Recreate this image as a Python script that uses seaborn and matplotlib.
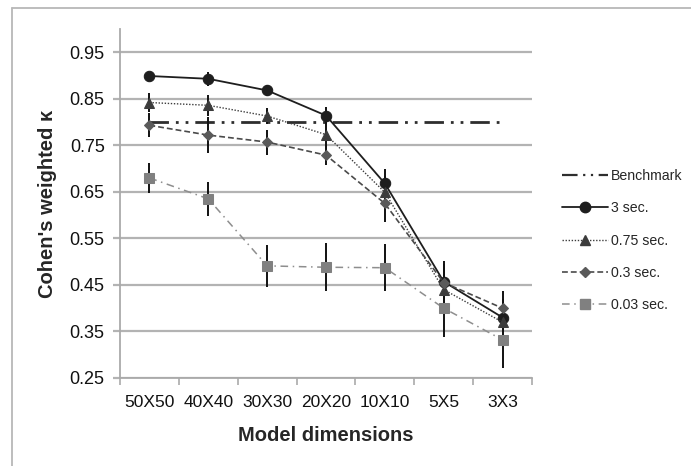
import matplotlib
matplotlib.use("Agg")
import matplotlib.pyplot as plt
import seaborn as sns
import pandas as pd
from matplotlib.lines import Line2D

categories = ["50X50", "40X40", "30X30", "20X20", "10X10", "5X5", "3X3"]
benchmark = 0.80
sec3 = [0.899, 0.893, 0.868, 0.814, 0.668, 0.457, 0.380]
sec3_err = [0.008, 0.015, 0.012, 0.018, 0.032, 0.045, 0.040]
sec075 = [0.842, 0.836, 0.813, 0.773, 0.649, 0.440, 0.370]
sec075_err = [0.020, 0.022, 0.018, 0.030, 0.035, 0.040, 0.035]
sec03 = [0.793, 0.772, 0.757, 0.729, 0.625, 0.455, 0.400]
sec03_err = [0.026, 0.038, 0.027, 0.022, 0.040, 0.040, 0.036]
sec003 = [0.680, 0.635, 0.491, 0.488, 0.487, 0.400, 0.332]
sec003_err = [0.033, 0.037, 0.045, 0.052, 0.050, 0.062, 0.060]
yticks = [0.25, 0.35, 0.45, 0.55, 0.65, 0.75, 0.85, 0.95]

sns.set_theme(style="white")
plt.rcParams['font.family'] = ['Liberation Sans', 'DejaVu Sans']

fig = plt.figure(figsize=(6.91, 4.66), dpi=100)
ax = fig.add_axes([120/691, 1-378/466, 412/691, (378-29)/466])

pos = list(range(len(categories)))

series = [
    ("3 sec.", sec3, sec3_err, dict(color="#1e1e1e", linestyle="-", linewidth=1.3, marker="o", markersize=7.5, markerfacecolor="#1e1e1e", markeredgecolor="#1e1e1e")),
    ("0.75 sec.", sec075, sec075_err, dict(color="#3c3c3c", linestyle=(0, (1, 1.2)), linewidth=1.0, marker="^", markersize=7.5, markerfacecolor="#3c3c3c", markeredgecolor="#3c3c3c")),
    ("0.3 sec.", sec03, sec03_err, dict(color="#4a4a4a", linestyle=(0, (3.5, 1.8)), linewidth=1.2, marker="D", markersize=5.5, markerfacecolor="#5a5a5a", markeredgecolor="#5a5a5a")),
    ("0.03 sec.", sec003, sec003_err, dict(color="#8e8e8e", linestyle=(0, (5, 3, 1, 3)), linewidth=1.1, marker="s", markersize=7.5, markerfacecolor="#808080", markeredgecolor="#808080")),
]

# gridlines
for y in yticks:
    ax.axhline(y, color="#b3b3b3", linewidth=1.6, zorder=0)

# benchmark line
bdf = pd.DataFrame({"x": [pos[0], pos[-1]], "y": [benchmark, benchmark]})
sns.lineplot(data=bdf, x="x", y="y", ax=ax, color="#2e2e2e", linewidth=2.0,
             dashes=False, linestyle=(0, (7, 2.5, 1, 2.5, 1, 2.5)), zorder=2)

# error bars
for name, vals, errs, st in series:
    ax.errorbar(pos, vals, yerr=errs, fmt="none", ecolor="#111111", elinewidth=1.4, capsize=0, zorder=3)

for name, vals, errs, st in series:
    df = pd.DataFrame({"x": pos, "y": vals})
    sns.lineplot(data=df, x="x", y="y", ax=ax, zorder=4, **st)

ax.set_xlim(-0.5, 6.5)
ax.set_ylim(0.25, 1.0)
ax.set_yticks(yticks)
ax.set_yticklabels([f"{v:.2f}" for v in yticks], fontsize=13)
ax.set_xticks(pos)
ax.set_xticklabels(categories, fontsize=12.5)
ax.set_xticks([p - 0.5 for p in pos] + [6.5], minor=True)
ax.tick_params(axis="x", which="major", length=0, pad=12, colors="#111111")
ax.tick_params(axis="x", which="minor", length=5, width=1.2, color="#aaaaaa", bottom=True)
ax.tick_params(axis="y", which="major", length=5, width=1.6, color="#b3b3b3", left=True, pad=6, colors="#111111")
ax.tick_params(axis="y", color="#b3b3b3")

for s in ["top", "right"]:
    ax.spines[s].set_visible(False)
for s in ["left", "bottom"]:
    ax.spines[s].set_color("#aaaaaa")
    ax.spines[s].set_linewidth(1.3)

ax.set_xlabel("Model dimensions", fontsize=14.5, fontweight="bold", labelpad=12)
ax.set_ylabel("Cohen's weighted κ", fontsize=14.5, fontweight="bold", labelpad=9)

handles = [Line2D([], [], color="#2e2e2e", linewidth=1.6, linestyle=(0, (7, 2.5, 1, 2.5, 1, 2.5)))]
labels = ["Benchmark"]
for name, vals, errs, st in series:
    handles.append(Line2D([], [], **st))
    labels.append(name)
fig.legend(handles, labels, loc="upper left", bbox_to_anchor=(556/691, 1-163/466),
           frameon=False, fontsize=10.2, handlelength=3.3, handletextpad=0.2,
           labelspacing=1.3, borderaxespad=0)

fig.add_artist(Line2D([12/691, 12/691], [0, 1-8/466], transform=fig.transFigure, color="#b8b8b8", linewidth=1.3))
fig.add_artist(Line2D([12/691, 1], [1-8/466, 1-8/466], transform=fig.transFigure, color="#b8b8b8", linewidth=1.3))

fig.savefig("out.png", dpi=100)
